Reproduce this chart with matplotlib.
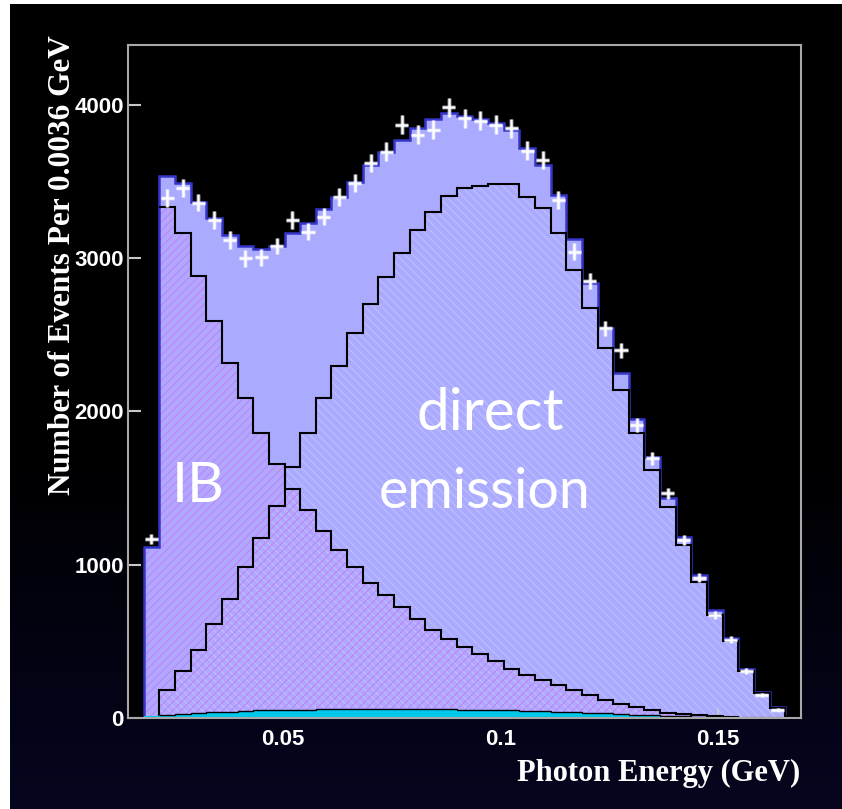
import numpy as np
import matplotlib
matplotlib.use("Agg")
import matplotlib.pyplot as plt
from matplotlib.colors import LinearSegmentedColormap
import matplotlib.patheffects as pe

# ---------------- data ----------------
bin_lo = 0.018       # GeV, first bin edge
bin_w = 0.0036       # GeV per bin
n_bins = 42

total = [1116, 3535, 3488, 3368, 3260, 3151, 3079, 3057, 3079, 3162,
         3231, 3318, 3401, 3499, 3608, 3695, 3771, 3847, 3906, 3945,
         3925, 3906, 3884, 3836, 3717, 3608, 3412, 3123, 2840, 2542,
         2248, 1948, 1700, 1436, 1181, 931, 703, 525, 322, 170,
         72, 11]

ib = [1095, 3335, 3166, 2883, 2591, 2313, 2085, 1856, 1660, 1497,
      1360, 1219, 1099, 986, 881, 801, 725, 649, 577, 518,
      463, 416, 370, 322, 279, 246, 213, 181, 148, 120,
      94, 72, 50, 35, 24, 18, 11, 5, 2, 1,
      0, 0]

de = [0, 181, 305, 442, 612, 773, 982, 1177, 1382, 1638,
      1856, 2085, 2296, 2513, 2700, 2879, 3035, 3183, 3303, 3405,
      3455, 3471, 3481, 3481, 3401, 3329, 3166, 2922, 2672, 2411,
      2139, 1856, 1617, 1377, 1127, 888, 670, 505, 305, 160,
      62, 10]

bkg = [10, 22, 28, 33, 38, 42, 46, 49, 51, 53,
       55, 56, 57, 57, 58, 58, 58, 58, 57, 56,
       55, 54, 52, 50, 48, 45, 42, 38, 34, 30,
       26, 22, 18, 14, 11, 8, 6, 4, 2, 1,
       0, 0]

data = [1166, 3390, 3455, 3362, 3249, 3118, 2999, 3005, 3079, 3249,
        3172, 3270, 3401, 3488, 3619, 3695, 3869, 3804, 3836, 3984,
        3912, 3897, 3869, 3847, 3701, 3640, 3379, 3042, 2853, 2542,
        2400, 1911, 1693, 1465, 1160, 916, 670, 512, 307, 148,
        55]

data_err = [34, 58, 59, 58, 57, 56, 55, 55, 55, 57,
            56, 57, 58, 59, 60, 61, 62, 62, 62, 63,
            63, 62, 62, 62, 61, 60, 58, 55, 53, 50,
            49, 44, 41, 38, 34, 30, 26, 23, 18, 12,
            7]

x_ticks = [0.05, 0.1, 0.15]
x_tick_labels = ["0.05", "0.1", "0.15"]
y_ticks = [0, 1000, 2000, 3000, 4000]
y_tick_labels = ["0", "1000", "2000", "3000", "4000"]

# ---------------- figure ----------------
W, H = 842, 809
fig = plt.figure(figsize=(W / 100, H / 100), dpi=100)
fig.patch.set_facecolor("white")

# dark background with a gradient towards navy at the bottom
bg = fig.add_axes([10 / W, 0, 1 - 10 / W, 1 - 4 / H], zorder=-10)
cmap = LinearSegmentedColormap.from_list(
    "bgc", [(0, "#000000"), (0.55, "#000000"), (0.92, "#04041a"), (1, "#06061f")])
grad = np.linspace(0, 1, 256).reshape(-1, 1)
bg.imshow(grad, aspect="auto", cmap=cmap, extent=[0, 1, 1, 0])
bg.set_axis_off()

ax = fig.add_axes([128 / W, 1 - 718 / H, 673 / W, 673 / H])
ax.set_facecolor("black")

edges = bin_lo + bin_w * np.arange(n_bins + 1)
centers = 0.5 * (edges[:-1] + edges[1:])

total_a = np.array(total, float)
ib_a = np.array(ib, float)
de_a = np.array(de, float)
bkg_a = np.array(bkg, float)

plt.rcParams["hatch.linewidth"] = 0.7

# total fill
ax.stairs(total_a, edges, fill=True, facecolor="#aaaaff", edgecolor="none", zorder=1)
# IB base tint
ax.stairs(ib_a, edges, fill=True, facecolor="#b0a8ff", edgecolor="none", zorder=2)
# DE hatch (light)
ax.stairs(de_a, edges, fill=True, facecolor="none", edgecolor="#c2c2ff",
          hatch="\\\\\\\\", linewidth=0, zorder=3)
# IB hatch (magenta)
ax.stairs(ib_a, edges, fill=True, facecolor="none", edgecolor="#c47cf8",
          hatch="////", linewidth=0, zorder=4)
# total outline
ax.stairs(total_a, edges, fill=False, color="#3535c8", linewidth=1.8, zorder=5)
# component outlines
ax.stairs(ib_a[1:], edges[1:], baseline=None, fill=False, color="black",
          linewidth=1.5, zorder=6)
ax.stairs(de_a[1:], edges[1:], fill=False, color="black", linewidth=1.5, zorder=6)
# background (cyan)
ax.stairs(bkg_a, edges, fill=True, facecolor="#00c8ea", edgecolor="none", zorder=7)
ax.stairs(bkg_a[1:], edges[1:], baseline=None, fill=False, color="black",
          linewidth=1.0, zorder=7)

# data points
ax.errorbar(centers[:len(data)], data, xerr=0.0015, yerr=data_err, fmt="none",
            ecolor="white", elinewidth=1.8, capsize=0, zorder=9,
            path_effects=[pe.withStroke(linewidth=3.5, foreground="#e8e8ff", alpha=0.3)])

ax.set_xlim(0.0144, 0.1692)
ax.set_ylim(0, 4390)

ax.set_xticks(x_ticks)
ax.set_xticklabels(x_tick_labels)
ax.set_yticks(y_ticks)
ax.set_yticklabels(y_tick_labels)
ax.minorticks_off()

for lab in ax.get_xticklabels() + ax.get_yticklabels():
    lab.set_family(["Liberation Sans", "DejaVu Sans"])
    lab.set_weight("bold")
    lab.set_size(16)
    lab.set_color("white")

ax.tick_params(axis="both", direction="in", color="#c8c8c8", width=1.5, zorder=10)
ax.tick_params(axis="y", length=9, pad=3)
ax.tick_params(axis="x", length=7, pad=8)
for s in ax.spines.values():
    s.set_color("#a8a8a8")
    s.set_linewidth(1.5)
    s.set_zorder(10)

# annotations inside the plot
txt_font = dict(family=["Lato", "DejaVu Sans"], weight="normal", color="white")
ax.text(0.0305, 1512, "IB", ha="center", va="center", size=41, zorder=11, **txt_font)
ax.text(0.0977, 1880, "direct", ha="center", va="baseline", size=42, zorder=11, **txt_font)
ax.text(0.0965, 1369, "emission", ha="center", va="baseline", size=40, zorder=11, **txt_font)

# axis titles
lab_font = dict(family=["Liberation Serif", "DejaVu Serif"], weight="bold", color="white")
fig.text(63 / W, 1 - 265 / H, "Number of Events Per 0.0036 GeV", rotation=90,
         ha="center", va="center", size=22.5, **lab_font)
fig.text(800 / W, 1 - 773 / H, "Photon Energy (GeV)", ha="right", va="center",
         size=22, **lab_font)

fig.savefig("out.png", dpi=100, facecolor=fig.get_facecolor())
